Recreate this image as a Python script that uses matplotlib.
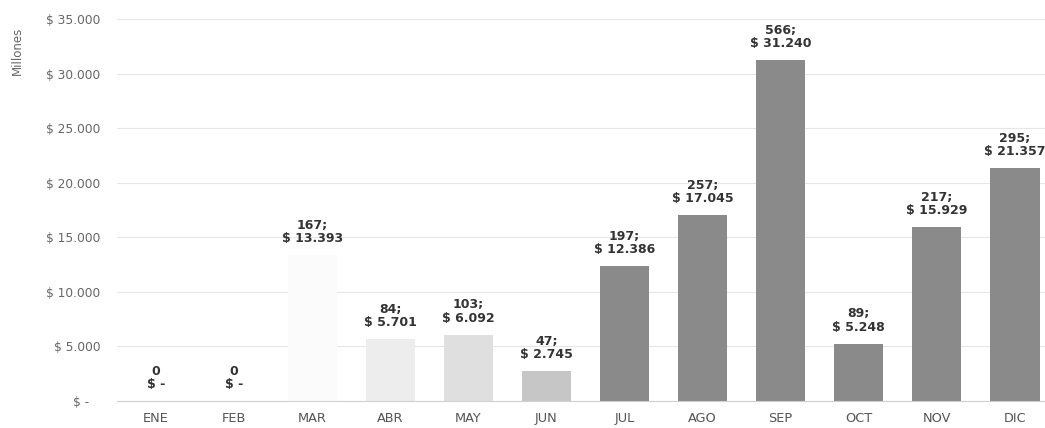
import numpy as np
import matplotlib.pyplot as plt

# Data
meses = ['ENE', 'FEB', 'MAR', 'ABR', 'MAY', 'JUN', 'JUL', 'AGO', 'SEP', 'OCT', 'NOV', 'DIC']
montos = [0, 0, 13393, 5701, 6092, 2745, 12386, 17045, 31240, 5248, 15929, 21357]   # millones
cantidades = [0, 0, 167, 84, 103, 47, 197, 257, 566, 89, 217, 295]
colores = ['#8c8c8c', '#8c8c8c', '#fbfbfb', '#ededed', '#dfdfdf', '#c6c6c6',
           '#8a8a8a', '#8a8a8a', '#8a8a8a', '#8a8a8a', '#8a8a8a', '#8a8a8a']
yticks = [0, 5000, 10000, 15000, 20000, 25000, 30000, 35000]
ytick_labels = ['$ -   ', '$ 5.000', '$ 10.000', '$ 15.000', '$ 20.000', '$ 25.000', '$ 30.000', '$ 35.000']

plt.rcParams['font.family'] = ['DejaVu Sans']

def fmt_miles(v):
    return f'{v:,}'.replace(',', '.')

f = plt.figure(figsize=(10.45, 4.28), dpi=100)
# axes runs a bit past the right edge, as in the original (DIC label is cut)
ax = f.add_axes([117 / 1045, 1 - 401 / 428, (1054 - 117) / 1045, (401 - 19) / 428])

x = np.arange(len(meses))
bars = ax.bar(x, montos, width=0.63, color=colores, zorder=2)

# labels above bars
for xi, n, v in zip(x, cantidades, montos):
    if v == 0:
        txt = '0\n$ -'
    else:
        txt = f'{n};\n$ {fmt_miles(v)}'
    ax.annotate(txt, (xi, v), xytext=(0, 7), textcoords='offset points',
                ha='center', va='bottom', fontsize=9, fontweight='bold',
                color='#333333', linespacing=1.05)

ax.set_xlim(-0.5, 11.5)
ax.set_ylim(0, 35000)
ax.set_xticks(x)
ax.set_xticklabels(meses, fontsize=9.3, color='#555555')
ax.set_yticks(yticks)
ax.set_yticklabels(ytick_labels, fontsize=8.8, color='#666666')
ax.tick_params(axis='y', length=0, pad=12)
ax.tick_params(axis='x', length=0, pad=8)
ax.yaxis.grid(True, color='#e6e6e6', linewidth=0.8, zorder=0)
ax.set_axisbelow(True)
for s in ['top', 'right', 'left']:
    ax.spines[s].set_visible(False)
ax.spines['bottom'].set_color('#d0d0d0')

f.text(0.017, 0.88, 'Millones', rotation=90, fontsize=8.5, color='#666666',
       ha='center', va='center')

plt.savefig('out.png', dpi=100)
